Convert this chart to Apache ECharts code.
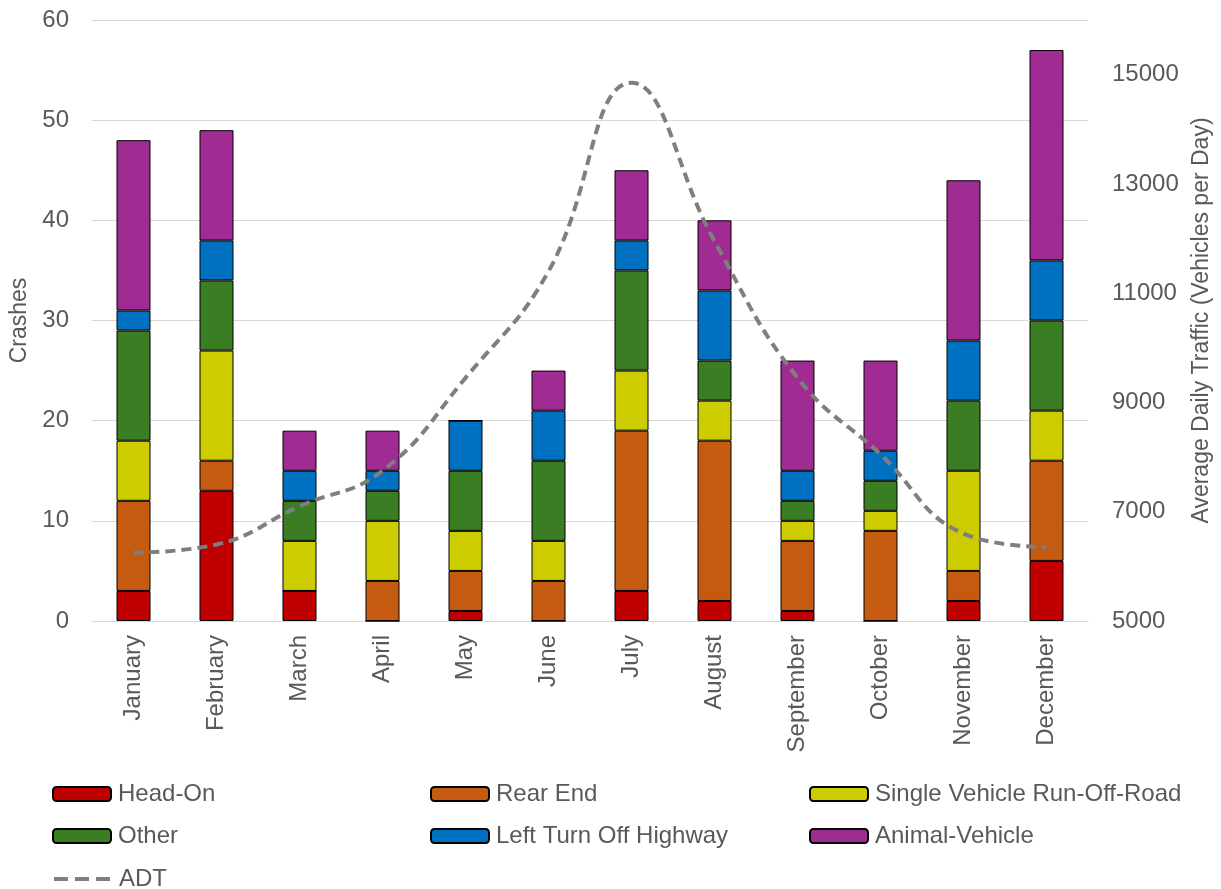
<!DOCTYPE html>
<html>
<head>
<meta charset="utf-8">
<script src="https://cdn.jsdelivr.net/npm/echarts@6/dist/echarts.min.js"></script>
<style>
html,body{margin:0;padding:0;background:#fff;overflow:hidden;}
#chart{width:1221px;height:889px;}
</style>
</head>
<body>
<div id="chart"></div>
<script>
const months = ['January','February','March','April','May','June','July','August','September','October','November','December'];
const headOn    = [3, 13, 3, 0, 1, 0, 3, 2, 1, 0, 2, 6];
const rearEnd   = [9, 3, 0, 4, 4, 4, 16, 16, 7, 9, 3, 10];
const singleVeh = [6, 11, 5, 6, 4, 4, 6, 4, 2, 2, 10, 5];
const other     = [11, 7, 4, 3, 6, 8, 10, 4, 2, 3, 7, 9];
const leftTurn  = [2, 4, 3, 2, 5, 5, 3, 7, 3, 3, 6, 6];
const animal    = [17, 11, 4, 4, 0, 4, 7, 7, 11, 9, 16, 21];
const adt       = [6250, 6400, 7100, 7750, 9450, 11400, 14850, 11950, 9450, 8050, 6600, 6350];
const leftTicks = {min: 0, max: 60, interval: 10};
const rightTicks = {min: 5000, max: 16000, interval: 2000};

const FONT = 'Liberation Sans';
const TXT = '#595959';

const barSeries = [
  {name: 'Head-On', data: headOn, color: '#C00000'},
  {name: 'Rear End', data: rearEnd, color: '#C55A11'},
  {name: 'Single Vehicle Run-Off-Road', data: singleVeh, color: '#CCCC00'},
  {name: 'Other', data: other, color: '#3B7D23'},
  {name: 'Left Turn Off Highway', data: leftTurn, color: '#0070C0'},
  {name: 'Animal-Vehicle', data: animal, color: '#A02B93'}
];

const series = barSeries.map(s => ({
  name: s.name,
  type: 'bar',
  stack: 'crashes',
  barWidth: 34,
  data: s.data,
  itemStyle: {color: s.color, borderColor: '#000', borderWidth: 1},
  emphasis: {disabled: true}
}));
series.push({
  name: 'ADT',
  type: 'line',
  yAxisIndex: 1,
  data: adt,
  smooth: 0.45,
  symbol: 'none',
  z: 10,
  lineStyle: {color: '#7F7F7F', width: 4, type: [10, 6]},
  itemStyle: {color: '#7F7F7F'},
  emphasis: {disabled: true}
});

// legend layout: [name, left, rowCenterY]
const legendPos = [
  ['Head-On', 52, 795], ['Rear End', 430, 795], ['Single Vehicle Run-Off-Road', 809, 795],
  ['Other', 52, 837], ['Left Turn Off Highway', 430, 837], ['Animal-Vehicle', 809, 837],
  ['ADT', 52, 880]
];
const legends = legendPos.map(p => {
  const lg = {
    data: [p[0]],
    left: p[1],
    top: p[2] - 13,
    itemWidth: 58,
    itemHeight: 14,
    padding: 0,
    selectedMode: false,
    textStyle: {fontFamily: FONT, fontSize: 24, color: TXT, padding: [0,0,0,2]}
  };
  if (p[0] === 'ADT') {
    lg.itemStyle = {opacity: 0};
    lg.lineStyle = {type: [14, 7], width: 4, color: '#7F7F7F', cap: 'butt'};
  }
  return lg;
});

const chart = echarts.init(document.getElementById('chart'));
chart.setOption({
  animation: false,
  backgroundColor: '#fff',
  textStyle: {fontFamily: FONT},
  legend: legends,
  grid: {left: 90, right: 129, top: 20, bottom: 268, containLabel: false},
  xAxis: {
    type: 'category',
    data: months,
    axisLine: {lineStyle: {color: '#D9D9D9', width: 1}},
    axisTick: {show: false},
    axisLabel: {rotate: 90, fontSize: 24, color: TXT, fontFamily: FONT, margin: 14, interval: 0}
  },
  yAxis: [
    {
      type: 'value',
      min: leftTicks.min, max: leftTicks.max, interval: leftTicks.interval,
      name: 'Crashes', nameLocation: 'middle', nameRotate: 90, nameGap: 61,
      nameTextStyle: {fontSize: 23, color: TXT, fontFamily: FONT},
      axisLine: {show: false}, axisTick: {show: false},
      axisLabel: {fontSize: 24, color: TXT, fontFamily: FONT, margin: 23},
      splitLine: {lineStyle: {color: '#D9D9D9', width: 1}}
    },
    {
      type: 'value',
      min: rightTicks.min, max: rightTicks.max, interval: rightTicks.interval,
      name: 'Average Daily Traffic (Vehicles per Day)', nameLocation: 'middle', nameRotate: 90, nameGap: 102,
      nameTextStyle: {fontSize: 23, color: TXT, fontFamily: FONT},
      axisLine: {show: false}, axisTick: {show: false},
      axisLabel: {fontSize: 24, color: TXT, fontFamily: FONT, margin: 24, showMaxLabel: false, align: 'left',
        formatter: v => String(v)},
      splitLine: {show: false}
    }
  ],
  series: series
});
</script>
</body>
</html>
